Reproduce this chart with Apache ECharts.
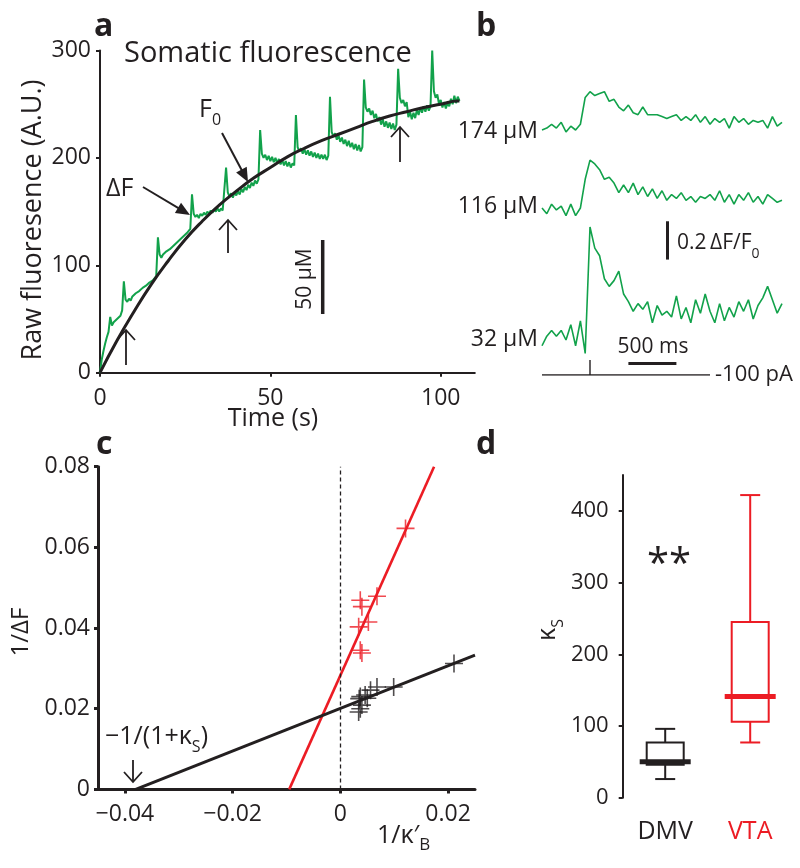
<!DOCTYPE html>
<html>
<head>
<meta charset="utf-8">
<script src="https://cdn.jsdelivr.net/npm/echarts@6/dist/echarts.min.js"></script>
<style>
html, body { margin: 0; padding: 0; background: #fff; }
#main { width: 800px; height: 868px; }
</style>
</head>
<body>
<div id="main"></div>
<script>
var GREEN = '#12a24b', RED = '#ec1c24', BLACK = '#231f20';
var FONT = '"Open Sans", "DejaVu Sans", sans-serif';

// ---- a: somatic fluorescence (raw, A.U.), one sample every 0.5 s
var somaDt = 0.5;
var somaF = [
  0, 12, 20, 27, 33, 38, 52, 44, 47, 46, 50, 49, 53, 58, 85, 68, 66, 69, 67, 71,
  70, 74, 73, 76, 75, 79, 78, 81, 80, 84, 83, 86, 85, 90, 126, 110, 107, 110, 109, 113,
  112, 115, 114, 118, 117, 121, 120, 124, 123, 127, 126, 130, 129, 134, 166, 148, 145, 147, 144, 148,
  146, 149, 147, 150, 148, 151, 149, 152, 150, 153, 150, 153, 151, 152, 191, 168, 164, 167, 163, 168,
  165, 169, 166, 171, 168, 173, 170, 175, 172, 177, 174, 179, 176, 180, 226, 204, 200, 203, 198, 202,
  197, 201, 196, 200, 195, 199, 194, 198, 193, 197, 192, 196, 191, 195, 193, 240, 210, 206, 209, 204,
  208, 203, 207, 202, 206, 201, 205, 200, 204, 199, 203, 199, 203, 198, 202, 257, 224, 220, 223, 217,
  221, 215, 219, 213, 217, 211, 216, 210, 214, 208, 213, 207, 212, 206, 210, 273, 247, 243, 246, 240,
  244, 237, 241, 234, 238, 231, 236, 229, 234, 228, 233, 227, 232, 226, 231, 283, 256, 251, 254, 248,
  252, 238, 243, 236, 242, 237, 245, 240, 247, 242, 248, 243, 249, 244, 248, 300, 262, 256, 259, 250,
  254, 247, 252, 246, 251, 248, 255, 250, 258, 251, 257, 253
];
// F0 fit (black curve)
var fitT = [0, 5, 10, 15, 20, 25, 30, 35, 40, 45, 50, 55, 60, 65, 70, 75, 80, 85, 90, 95, 100, 105, 105.5];
var fitF = [0, 30, 57, 82, 104, 124, 141, 156, 169, 181, 191, 201, 209, 216, 222, 228, 234, 239, 243, 247, 250, 253, 253];

// ---- b: single-spike dF/F0 transients, one sample every 50 ms
var traceDt = 50;
var trace174 = [0.00, 0.01, 0.03, 0.01, 0.04, -0.01, 0.02, 0.00, 0.03, 0.17, 0.20, 0.18, 0.19, 0.20, 0.15, 0.16, 0.12,
  0.10, 0.13, 0.09, 0.08, 0.12, 0.08, 0.08, 0.08, 0.07, 0.06, 0.07, 0.08, 0.05, 0.07, 0.05, 0.08, 0.04, 0.07,
  0.03, 0.06, 0.04, 0.06, 0.01, 0.07, 0.04, 0.06, 0.03, 0.05, 0.04, 0.05, 0.01, 0.07, 0.02, 0.04];
var trace116 = [0.00, -0.03, 0.02, -0.01, 0.01, -0.04, 0.02, -0.04, 0.00, 0.15, 0.25, 0.23, 0.20, 0.15, 0.16, 0.13, 0.08,
  0.12, 0.08, 0.13, 0.07, 0.11, 0.06, 0.10, 0.05, 0.09, 0.04, 0.07, 0.05, 0.08, 0.04, 0.06, 0.03, 0.06, 0.05,
  0.07, 0.04, 0.09, 0.03, 0.07, 0.02, 0.07, 0.04, 0.08, 0.03, 0.06, 0.02, 0.07, 0.05, 0.03, 0.04];
var trace32 = [-0.03, 0.02, 0.05, 0.02, 0.05, 0.00, 0.08, -0.03, 0.10, -0.07, 0.59, 0.48, 0.44, 0.32, 0.28, 0.31, 0.36,
  0.24, 0.20, 0.15, 0.19, 0.16, 0.20, 0.09, 0.18, 0.13, 0.15, 0.12, 0.23, 0.11, 0.17, 0.09, 0.21, 0.14, 0.24,
  0.15, 0.09, 0.19, 0.10, 0.17, 0.12, 0.20, 0.15, 0.21, 0.11, 0.18, 0.22, 0.28, 0.21, 0.14, 0.19];
// current injection (-100 pA pulse)
var stimT = [0, 500, 500, 500, 1750];
var stimI = [0, 0, 1, 0, 0];
var scaleDF = 0.2, scaleMs = 500;

// ---- c: 1/dF vs 1/kappa'B
var redX = [0.0121, 0.0068, 0.0037, 0.0040, 0.0052, 0.0034, 0.0037, 0.0040];
var redY = [0.0647, 0.0479, 0.0469, 0.0453, 0.0415, 0.0403, 0.0345, 0.0338];
var blackX = [0.0211, 0.0099, 0.0068, 0.0056, 0.0046, 0.0037, 0.0035, 0.0040, 0.0037, 0.0034, 0.0050];
var blackY = [0.0312, 0.0254, 0.0254, 0.0246, 0.0234, 0.0230, 0.0225, 0.0209, 0.0200, 0.0192, 0.0226];
var redFit = [[-0.0095, 0], [0.0174, 0.08]];
var blackFit = [[-0.038, 0], [0.025, 0.0333]];

// ---- d: kappa_S box plots [min, q1, median, q3, max]
var groups = ['DMV', 'VTA'];
var boxStats = [[26, 46, 50, 77, 96], [77, 106, 141, 245, 422]];
var boxColors = [BLACK, RED];

function pairs(vals, dt) {
  return vals.map(function (v, i) { return [i * dt, v]; });
}
function zip(xs, ys) {
  return xs.map(function (x, i) { return [x, ys[i]]; });
}

function T(str, x, y, o) {
  o = o || {};
  return {
    type: 'text', x: x, y: y, z: 100, rotation: o.rot ? o.rot * Math.PI / 180 : 0,
    style: {
      text: str, fontFamily: FONT, fontSize: o.size || 22, fontWeight: o.bold ? 'bold' : 'normal',
      fill: o.color || BLACK, align: o.align || 'center', verticalAlign: 'middle', rich: o.rich
    }
  };
}
function subRich(main, sub) {
  return {
    m: { fontFamily: FONT, fontSize: main, lineHeight: 36, fill: BLACK },
    s: { fontFamily: FONT, fontSize: sub, lineHeight: 14, verticalAlign: 'bottom', fill: BLACK }
  };
}
function L(x1, y1, x2, y2, w) {
  return { type: 'line', z: 100, shape: { x1: x1, y1: y1, x2: x2, y2: y2 }, style: { stroke: BLACK, lineWidth: w || 1.8 } };
}
function openArrow(x, yTip, yTail, dir) {
  // dir = -1 points up, 1 points down
  var hy = yTip - dir * 10;
  return [L(x, yTail, x, yTip, 1.8),
    { type: 'polyline', z: 100, shape: { points: [[x - 9, hy], [x, yTip], [x + 9, hy]] }, style: { stroke: BLACK, lineWidth: 1.8, fill: null } }];
}
function filledArrow(x1, y1, x2, y2) {
  var dx = x2 - x1, dy = y2 - y1, len = Math.sqrt(dx * dx + dy * dy), ux = dx / len, uy = dy / len;
  var bx = x2 - ux * 14, by = y2 - uy * 14;
  return [L(x1, y1, bx + ux * 3, by + uy * 3, 2),
    { type: 'polygon', z: 100, shape: { points: [[x2, y2], [bx - uy * 6, by + ux * 6], [bx + uy * 6, by - ux * 6]] }, style: { fill: BLACK } }];
}

function numAxisStyle(w) {
  return {
    axisLine: { show: true, onZero: false, lineStyle: { color: BLACK, width: w } },
    axisTick: { show: true, length: 4, lineStyle: { color: BLACK, width: w } },
    splitLine: { show: false }
  };
}
function labelStyle(size, margin) {
  return { color: BLACK, fontFamily: FONT, fontSize: size, margin: margin };
}
function hidden(min, max, gridIndex) {
  return { type: 'value', gridIndex: gridIndex, min: min, max: max, show: false, splitLine: { show: false } };
}
function minusFmt(v) {
  return v < 0 ? '\u2212' + Math.abs(v) : String(v);
}

var chart = echarts.init(document.getElementById('main'), null, { renderer: 'canvas' });

var xa = Object.assign({ type: 'value', gridIndex: 0, min: 0, max: 110 }, numAxisStyle(2));
xa.axisTick.customValues = [0, 50, 100];
xa.axisLabel = Object.assign(labelStyle(23, 14), { customValues: [0, 50, 100] });
var ya = Object.assign({ type: 'value', gridIndex: 0, min: 0, max: 300, interval: 100 }, numAxisStyle(2));
ya.axisLabel = labelStyle(23, 9);

var xc = Object.assign({ type: 'value', gridIndex: 5, min: -0.045, max: 0.025 }, numAxisStyle(3));
xc.axisTick.customValues = [-0.04, -0.02, 0, 0.02];
xc.axisLabel = Object.assign(labelStyle(23, 14), { customValues: [-0.04, -0.02, 0, 0.02], formatter: minusFmt });
var yc = Object.assign({ type: 'value', gridIndex: 5, min: 0, max: 0.08, interval: 0.02 }, numAxisStyle(3));
yc.axisLabel = labelStyle(23, 8);

var xd = {
  type: 'category', gridIndex: 6, data: groups,
  axisLine: { show: false }, axisTick: { show: false }, splitLine: { show: false },
  axisLabel: {
    interval: 0, hideOverlap: false, margin: 22, fontFamily: FONT, fontSize: 25,
    color: function (v) { return v === 'VTA' ? RED : BLACK; }
  }
};
var yd = Object.assign({ type: 'value', gridIndex: 6, min: 0, max: 450 }, numAxisStyle(2));
yd.axisTick.customValues = [0, 100, 200, 300, 400];
yd.axisLabel = Object.assign(labelStyle(22, 14), { customValues: [0, 100, 200, 300, 400] });

function g(left, top, width, height) {
  return { left: left, top: top, width: width, height: height, containLabel: false, outerBoundsMode: 'none' };
}

var graphics = [
  T('a', 94, 27, { size: 32, bold: true, align: 'left' }),
  T('b', 476, 27, { size: 32, bold: true, align: 'left' }),
  T('c', 96, 445, { size: 32, bold: true, align: 'left' }),
  T('d', 476, 445, { size: 32, bold: true, align: 'left' }),
  T('Somatic fluorescence', 124, 54, { size: 29, align: 'left' }),
  T('Raw fluoresence (A.U.)', 33, 220, { size: 27, rot: 90 }),
  T('Time (s)', 273, 419, { size: 25 }),
  T('\u0394F', 106, 189, { size: 25, align: 'left' }),
  T('{m|F}{s|0}', 199, 110, { align: 'left', rich: subRich(25, 16) }),
  T('50 \u00b5M', 305, 279, { size: 21, rot: 90 }),
  L(322.7, 240, 322.7, 314, 3.5),
  T('174 \u00b5M', 538, 131, { size: 23, align: 'right' }),
  T('116 \u00b5M', 538, 206, { size: 23, align: 'right' }),
  T('32 \u00b5M', 538, 339, { size: 23, align: 'right' }),
  T('{m|0.2\u2009\u0394F/F}{s|0}', 677, 243, { align: 'left', rich: subRich(21, 14) }),
  T('500 ms', 653, 347, { size: 21 }),
  T('-100 pA', 715, 375, { size: 22, align: 'left' }),
  T('1/\u0394F', 21, 632, { size: 24, rot: 90 }),
  T('{m|1/\u03ba\u2032}{s|B}', 377, 836, { align: 'left', rich: subRich(25, 17) }),
  T('{m|\u22121/(1+\u03ba}{s|S}{m|)}', 105, 737, { align: 'left', rich: subRich(25, 16) }),
  T('{m|\u03ba}{s|S}', 548, 630, { rot: 90, rich: subRich(25, 16) }),
  T('**', 669, 566, { size: 40 })
];
graphics = graphics
  .concat(openArrow(126, 330, 365, -1))
  .concat(openArrow(228, 220, 253, -1))
  .concat(openArrow(400, 127, 162, -1))
  .concat(openArrow(133, 782, 760, 1))
  .concat(filledArrow(143, 187, 190, 215))
  .concat(filledArrow(222, 133, 248, 182));

var crossPath = 'path://M-10,0 L10,0 M0,-10 L0,10';

var option = {
  animation: false,
  backgroundColor: '#fff',
  textStyle: { fontFamily: FONT },
  grid: [
    g(100, 50.5, 374.8, 322.2),      // a
    g(542, 72.55, 240, 76.6),        // b 174
    g(542, 150.55, 240, 76.6),       // b 116
    g(542, 205.95, 240, 172.35),     // b 32
    g(542, 360, 240, 15),            // b stim
    g(98, 466.7, 377, 322.7),        // c
    g(622.7, 475, 170, 322.7)        // d
  ],
  xAxis: [xa, hidden(0, 2500, 1), hidden(0, 2500, 2), hidden(0, 2500, 3), hidden(0, 2500, 4), xc, xd],
  yAxis: [ya, hidden(-0.1, 0.3, 1), hidden(-0.1, 0.3, 2), hidden(-0.2, 0.7, 3), hidden(0, 1, 4), yc, yd],
  series: [
    { type: 'line', xAxisIndex: 0, yAxisIndex: 0, data: pairs(somaF, somaDt), symbol: 'none',
      lineStyle: { color: GREEN, width: 2 }, silent: true },
    { type: 'line', xAxisIndex: 0, yAxisIndex: 0, data: zip(fitT, fitF), symbol: 'none', smooth: true,
      lineStyle: { color: BLACK, width: 3 }, silent: true },

    { type: 'line', xAxisIndex: 1, yAxisIndex: 1, data: pairs(trace174, traceDt), symbol: 'none',
      lineStyle: { color: GREEN, width: 1.6 }, silent: true },
    { type: 'line', xAxisIndex: 2, yAxisIndex: 2, data: pairs(trace116, traceDt), symbol: 'none',
      lineStyle: { color: GREEN, width: 1.6 }, silent: true },
    { type: 'line', xAxisIndex: 3, yAxisIndex: 3, data: pairs(trace32, traceDt), symbol: 'none',
      lineStyle: { color: GREEN, width: 1.6 }, silent: true,
      markLine: {
        silent: true, symbol: ['none', 'none'], label: { show: false },
        lineStyle: { color: BLACK, width: 3, type: 'solid' },
        emphasis: { disabled: true },
        data: [
          [{ coord: [1300, 0.42] }, { coord: [1300, 0.42 + scaleDF] }],
          [{ coord: [900, -0.12] }, { coord: [900 + scaleMs, -0.12] }]
        ]
      } },
    { type: 'line', xAxisIndex: 4, yAxisIndex: 4, data: zip(stimT, stimI), symbol: 'none',
      lineStyle: { color: BLACK, width: 1.4 }, silent: true },

    { type: 'line', xAxisIndex: 5, yAxisIndex: 5, data: redFit, symbol: 'none',
      lineStyle: { color: RED, width: 2.6 }, silent: true,
      markLine: {
        silent: true, symbol: ['none', 'none'], label: { show: false },
        lineStyle: { color: BLACK, width: 1.3, type: [4, 3] },
        emphasis: { disabled: true },
        data: [{ xAxis: 0 }]
      } },
    { type: 'line', xAxisIndex: 5, yAxisIndex: 5, data: blackFit, symbol: 'none',
      lineStyle: { color: BLACK, width: 3 }, silent: true },
    { type: 'scatter', xAxisIndex: 5, yAxisIndex: 5, data: zip(redX, redY), symbol: crossPath, symbolSize: 18,
      itemStyle: { color: 'rgba(0,0,0,0)', borderColor: RED, borderWidth: 1.6 }, silent: true },
    { type: 'scatter', xAxisIndex: 5, yAxisIndex: 5, data: zip(blackX, blackY), symbol: crossPath, symbolSize: 18,
      itemStyle: { color: 'rgba(0,0,0,0)', borderColor: BLACK, borderWidth: 1.6 }, silent: true },

    { type: 'custom', xAxisIndex: 6, yAxisIndex: 6, silent: true,
      data: boxStats.map(function (s, i) { return [i].concat(s); }),
      encode: { x: 0, y: [1, 2, 3, 4, 5] },
      renderItem: function (params, api) {
        var i = api.value(0);
        var lo = api.coord([i, api.value(1)]);
        var q1 = api.coord([i, api.value(2)]);
        var md = api.coord([i, api.value(3)]);
        var q3 = api.coord([i, api.value(4)]);
        var hi = api.coord([i, api.value(5)]);
        var x = md[0], col = boxColors[i];
        var st = { stroke: col, lineWidth: 2, fill: null };
        return {
          type: 'group', children: [
            { type: 'rect', shape: { x: x - 18.5, y: q3[1], width: 37, height: q1[1] - q3[1] }, style: { stroke: col, lineWidth: 2, fill: null } },
            { type: 'line', shape: { x1: x, y1: q3[1], x2: x, y2: hi[1] }, style: st },
            { type: 'line', shape: { x1: x, y1: q1[1], x2: x, y2: lo[1] }, style: st },
            { type: 'line', shape: { x1: x - 10, y1: hi[1], x2: x + 10, y2: hi[1] }, style: st },
            { type: 'line', shape: { x1: x - 10, y1: lo[1], x2: x + 10, y2: lo[1] }, style: st },
            { type: 'line', shape: { x1: x - 25.5, y1: md[1], x2: x + 25.5, y2: md[1] }, style: { stroke: col, lineWidth: 5 } }
          ]
        };
      } }
  ],
  graphic: graphics
};

chart.setOption(option);
window.onresize = chart.resize;
</script>
</body>
</html>
